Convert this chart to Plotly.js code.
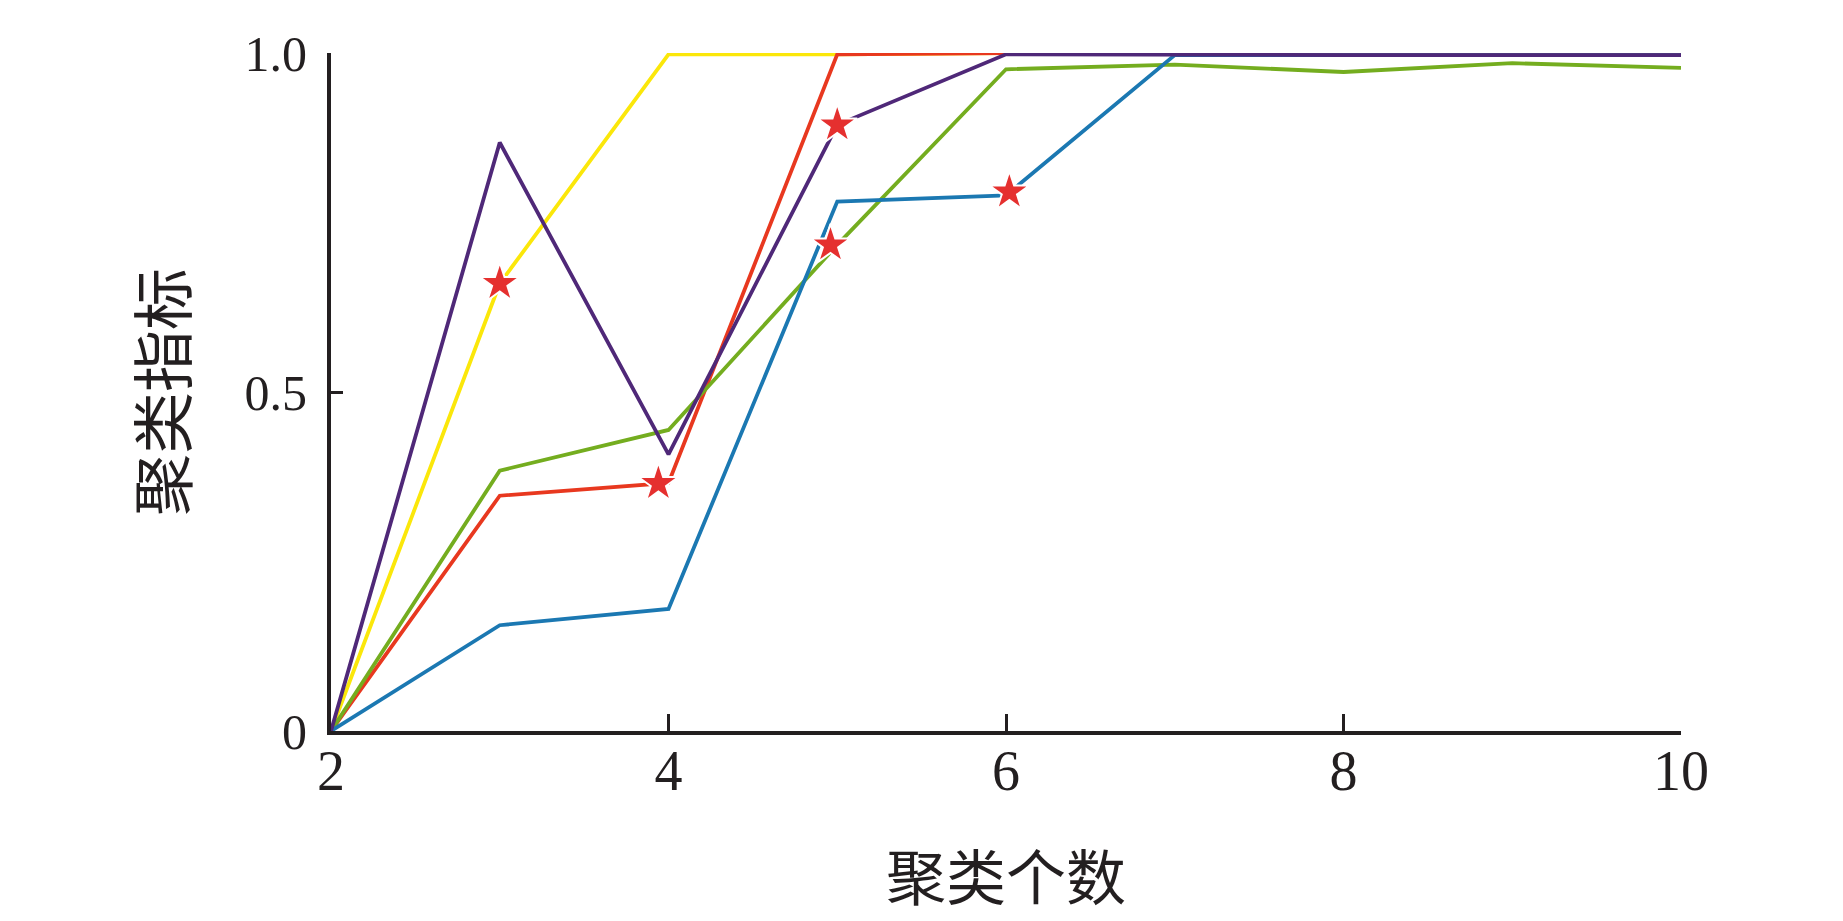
<!DOCTYPE html>
<html>
<head>
<meta charset="utf-8">
<script src="https://cdn.plot.ly/plotly-3.0.1.min.js"></script>
<style>
  html, body { margin: 0; padding: 0; background: #fff; }
  #chart { width: 1843px; height: 921px; }
</style>
</head>
<body>
<div id="chart"></div>
<script>
  // cluster counts on the x axis
  const clusterCounts = [2, 3, 4, 5, 6, 7, 8, 9, 10];

  // clustering index per series
  const yellowSeries = [0, 0.66, 0.998, 0.998, 1.0, 1.0, 1.0, 1.0, 1.0];
  const redSeries = [0, 0.347, 0.366, 0.998, 1.0, 1.0, 1.0, 1.0, 1.0];
  const greenSeries = [0, 0.384, 0.444, 0.717, 0.976, 0.983, 0.972, 0.985, 0.978];
  const blueSeries = [0, 0.156, 0.18, 0.781, 0.79, 0.997, 0.997, 0.997, 0.997];
  const purpleSeries = [0, 0.868, 0.408, 0.894, 0.998, 0.997, 0.997, 0.997, 0.997];

  // red star markers
  const starX = [3.0, 3.94, 4.96, 5.0, 6.02];
  const starY = [0.66, 0.365, 0.717, 0.894, 0.795];

  const xTickVals = [2, 4, 6, 8, 10];
  const xTickText = ['2', '4', '6', '8', '10'];
  const yTickVals = [0, 0.5, 1.0];
  const yTickText = ['0', '0.5', '1.0'];

  const SERIF = '"Liberation Serif", "DejaVu Serif", serif';
  const CJK = '"Noto Sans CJK SC", sans-serif';
  const INK = '#231f20';

  function lineTrace(values, color) {
    return {
      type: 'scatter',
      mode: 'lines',
      x: clusterCounts,
      y: values,
      line: { color, width: 3.8 },
      cliponaxis: false,
      hoverinfo: 'skip'
    };
  }

  const traces = [
    lineTrace(yellowSeries, '#fbe70a'),
    lineTrace(redSeries, '#e8381f'),
    lineTrace(greenSeries, '#74ad1f'),
    lineTrace(blueSeries, '#1b78b2'),
    lineTrace(purpleSeries, '#4f2878'),
    {
      type: 'scatter',
      mode: 'markers',
      x: starX,
      y: starY,
      marker: {
        symbol: 'star',
        size: 30,
        color: '#e5302f',
        line: { color: '#ffffff', width: 2 }
      },
      cliponaxis: false,
      hoverinfo: 'skip'
    }
  ];

  const layout = {
    width: 1843,
    height: 921,
    paper_bgcolor: '#ffffff',
    plot_bgcolor: '#ffffff',
    showlegend: false,
    margin: { l: 331, r: 162, t: 53, b: 190 },
    xaxis: {
      range: [2, 10],
      tickmode: 'array',
      tickvals: xTickVals,
      ticktext: xTickText,
      ticks: 'inside',
      ticklen: 17,
      tickwidth: 3,
      tickcolor: INK,
      ticklabelstandoff: -12,
      showline: true,
      linecolor: INK,
      linewidth: 4,
      showgrid: false,
      zeroline: false,
      tickfont: { family: SERIF, size: 56, color: INK },
      title: {
        text: '聚类个数',
        standoff: 58,
        font: { family: CJK, size: 60, color: INK }
      }
    },
    yaxis: {
      range: [0, 1],
      tickmode: 'array',
      tickvals: yTickVals,
      ticktext: yTickText,
      ticks: 'inside',
      ticklen: 12,
      tickwidth: 3,
      tickcolor: INK,
      ticklabelstandoff: 10,
      showline: true,
      linecolor: INK,
      linewidth: 4,
      showgrid: false,
      zeroline: false,
      tickfont: { family: SERIF, size: 50, color: INK },
      title: {
        text: '聚类指标',
        standoff: 38,
        font: { family: CJK, size: 62, color: INK }
      }
    }
  };

  Plotly.newPlot('chart', traces, layout, { displayModeBar: false, staticPlot: true });
</script>
</body>
</html>
